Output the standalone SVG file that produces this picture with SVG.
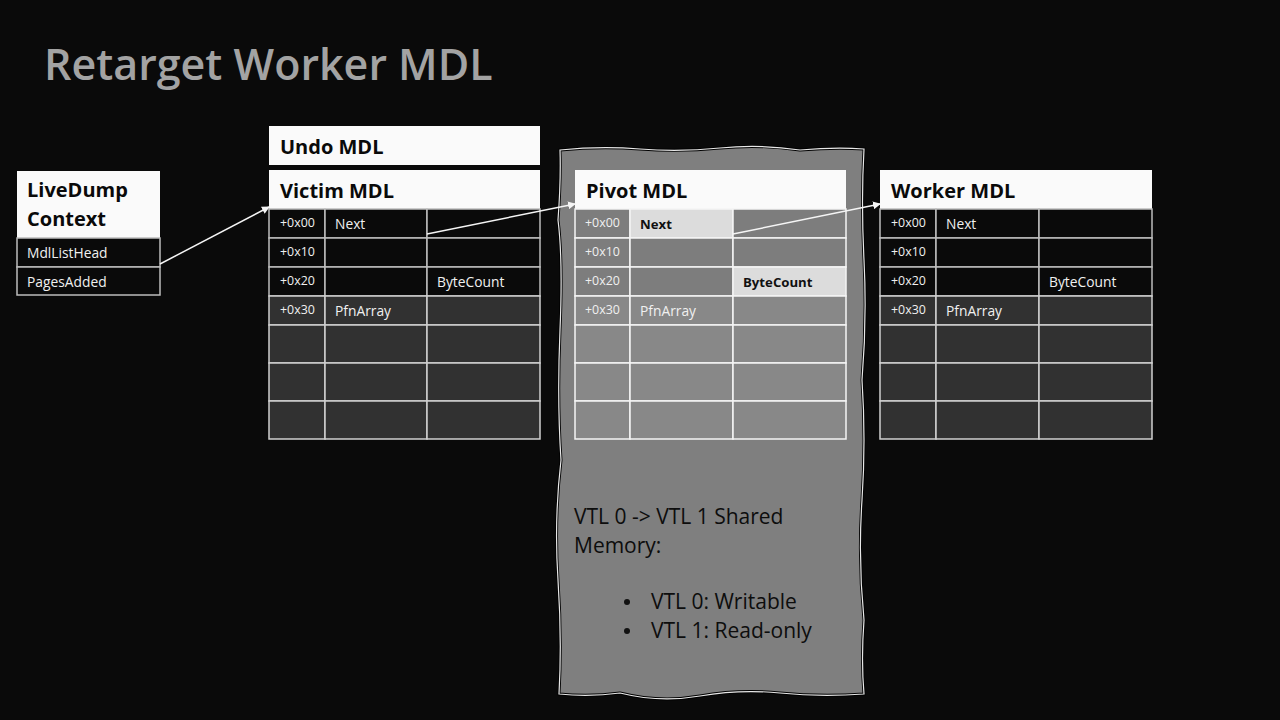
<svg xmlns="http://www.w3.org/2000/svg" width="1280" height="720" viewBox="0 0 1280 720">
<defs>
<style>
.t{font-family:"Open Sans","Noto Sans","Liberation Sans",sans-serif}
.hdr{fill:#fafafa}
.h{font-family:"Open Sans","Noto Sans","Liberation Sans",sans-serif;font-weight:bold;font-size:20px;fill:#0a0a0a}
.c{font-family:"Open Sans","Noto Sans","Liberation Sans",sans-serif;font-size:13.8px;fill:#f0f0f0}
.o{font-family:"Open Sans","Noto Sans","Liberation Sans",sans-serif;font-size:12.4px;fill:#f0f0f0}
.cb{font-family:"Open Sans","Noto Sans","Liberation Sans",sans-serif;font-size:13.2px;font-weight:bold;fill:#111}
.blk{fill:#0a0a0a;stroke:#bdbdbd;stroke-width:1.5}
.dk{fill:#313131;stroke:#d0d0d0;stroke-width:1.5}
.pg{fill:#7d7d7d;stroke:#f5f5f5;stroke-width:1.5}
.pl{fill:#888888;stroke:#f5f5f5;stroke-width:1.5}
.pw{fill:#dcdcdc;stroke:#f5f5f5;stroke-width:1.5}
.ar{stroke:#f5f5f5;stroke-width:1.5;fill:none;marker-end:url(#ah)}
.body{font-family:"Open Sans","Noto Sans","Liberation Sans",sans-serif;font-size:21px;fill:#0d0d0d}
</style>
<marker id="ah" markerWidth="8" markerHeight="8" refX="7" refY="4" orient="auto" markerUnits="userSpaceOnUse">
<path d="M0,0 L8,4 L0,8 Z" fill="#f5f5f5"/>
</marker>
</defs>
<rect width="1280" height="720" fill="#0a0a0a"/>
<text x="44" y="80" class="t" font-size="43" font-weight="600" fill="#a3a3a3">Retarget Worker MDL</text>

<g id="pivot-region">
<path d="M560,150 Q600,146 640,149 T720,148 T800,150 Q835,147 864,149 Q861,200 864,260 T862,380 Q866,440 862,500 T864,620 Q861,660 864,694 Q820,697 780,693 T700,696 T620,693 Q590,697 559,694 Q562,640 558,580 T561,460 Q557,400 560,330 T558,220 Q561,180 560,150 Z" fill="#7f7f7f" stroke="#000" stroke-width="3"/>
<path d="M560,150 Q600,146 640,149 T720,148 T800,150 Q835,147 864,149 Q861,200 864,260 T862,380 Q866,440 862,500 T864,620 Q861,660 864,694 Q820,697 780,693 T700,696 T620,693 Q590,697 559,694 Q562,640 558,580 T561,460 Q557,400 560,330 T558,220 Q561,180 560,150 Z" fill="none" stroke="#e8e8e8" stroke-width="1.2"/>
<text class="body"><tspan x="574" y="524">VTL 0 -&gt; VTL 1 Shared</tspan><tspan x="574" y="553">Memory:</tspan></text>
<circle cx="627" cy="602" r="3" fill="#111"/>
<circle cx="627" cy="631" r="3" fill="#111"/>
<text x="651" y="609" class="body">VTL 0: Writable</text>
<text x="651" y="638" class="body">VTL 1: Read-only</text>
</g>

<g id="livedump">
<rect x="17" y="171" width="143" height="67" class="hdr"/>
<text class="h"><tspan x="27" y="197">LiveDump</tspan><tspan x="27" y="226">Context</tspan></text>
<rect x="17" y="238" width="143" height="29" class="blk"/>
<rect x="17" y="267" width="143" height="28" class="blk"/>
<text x="27" y="258" class="c">MdlListHead</text>
<text x="27" y="287" class="c">PagesAdded</text>
</g>

<g id="undo-mdl">
<rect x="269" y="126" width="271" height="39" class="hdr"/>
<text x="280" y="154" class="h">Undo MDL</text>
</g>

<g id="victim-mdl">
<rect x="269" y="170" width="271" height="39" class="hdr"/>
<text x="280" y="198" class="h">Victim MDL</text>
<g>
<rect x="269" y="209" width="56" height="29" class="blk"/><rect x="325" y="209" width="102" height="29" class="blk"/><rect x="427" y="209" width="113" height="29" class="blk"/>
<rect x="269" y="238" width="56" height="29" class="blk"/><rect x="325" y="238" width="102" height="29" class="blk"/><rect x="427" y="238" width="113" height="29" class="blk"/>
<rect x="269" y="267" width="56" height="29" class="blk"/><rect x="325" y="267" width="102" height="29" class="blk"/><rect x="427" y="267" width="113" height="29" class="blk"/>
<rect x="269" y="296" width="56" height="29" class="dk"/><rect x="325" y="296" width="102" height="29" class="dk"/><rect x="427" y="296" width="113" height="29" class="dk"/>
<rect x="269" y="325" width="56" height="38" class="dk"/><rect x="325" y="325" width="102" height="38" class="dk"/><rect x="427" y="325" width="113" height="38" class="dk"/>
<rect x="269" y="363" width="56" height="38" class="dk"/><rect x="325" y="363" width="102" height="38" class="dk"/><rect x="427" y="363" width="113" height="38" class="dk"/>
<rect x="269" y="401" width="56" height="38" class="dk"/><rect x="325" y="401" width="102" height="38" class="dk"/><rect x="427" y="401" width="113" height="38" class="dk"/>
</g>
<text x="280" y="227" class="o">+0x00</text><text x="335" y="229" class="c">Next</text>
<text x="280" y="256" class="o">+0x10</text>
<text x="280" y="285" class="o">+0x20</text><text x="437" y="287" class="c">ByteCount</text>
<text x="280" y="314" class="o">+0x30</text><text x="335" y="316" class="c">PfnArray</text>
</g>

<g id="pivot-mdl">
<rect x="575" y="170" width="271" height="39" class="hdr"/>
<text x="586" y="198" class="h">Pivot MDL</text>
<g>
<rect x="575" y="209" width="55" height="29" class="pg"/><rect x="630" y="209" width="103" height="29" class="pw"/><rect x="733" y="209" width="113" height="29" class="pg"/>
<rect x="575" y="238" width="55" height="29" class="pg"/><rect x="630" y="238" width="103" height="29" class="pg"/><rect x="733" y="238" width="113" height="29" class="pg"/>
<rect x="575" y="267" width="55" height="29" class="pg"/><rect x="630" y="267" width="103" height="29" class="pg"/><rect x="733" y="267" width="113" height="29" class="pw" fill="#e6e6e6"/>
<rect x="575" y="296" width="55" height="29" class="pl"/><rect x="630" y="296" width="103" height="29" class="pl"/><rect x="733" y="296" width="113" height="29" class="pl"/>
<rect x="575" y="325" width="55" height="38" class="pl"/><rect x="630" y="325" width="103" height="38" class="pl"/><rect x="733" y="325" width="113" height="38" class="pl"/>
<rect x="575" y="363" width="55" height="38" class="pl"/><rect x="630" y="363" width="103" height="38" class="pl"/><rect x="733" y="363" width="113" height="38" class="pl"/>
<rect x="575" y="401" width="55" height="38" class="pl"/><rect x="630" y="401" width="103" height="38" class="pl"/><rect x="733" y="401" width="113" height="38" class="pl"/>
</g>
<text x="585" y="227" class="o">+0x00</text><text x="640" y="229" class="cb">Next</text>
<text x="585" y="256" class="o">+0x10</text>
<text x="585" y="285" class="o">+0x20</text><text x="743" y="287" class="cb">ByteCount</text>
<text x="585" y="314" class="o">+0x30</text><text x="640" y="316" class="c">PfnArray</text>
</g>

<g id="worker-mdl">
<rect x="880" y="170" width="272" height="39" class="hdr"/>
<text x="891" y="198" class="h">Worker MDL</text>
<g>
<rect x="880" y="209" width="56" height="29" class="blk"/><rect x="936" y="209" width="103" height="29" class="blk"/><rect x="1039" y="209" width="113" height="29" class="blk"/>
<rect x="880" y="238" width="56" height="29" class="blk"/><rect x="936" y="238" width="103" height="29" class="blk"/><rect x="1039" y="238" width="113" height="29" class="blk"/>
<rect x="880" y="267" width="56" height="29" class="blk"/><rect x="936" y="267" width="103" height="29" class="blk"/><rect x="1039" y="267" width="113" height="29" class="blk"/>
<rect x="880" y="296" width="56" height="29" class="dk"/><rect x="936" y="296" width="103" height="29" class="dk"/><rect x="1039" y="296" width="113" height="29" class="dk"/>
<rect x="880" y="325" width="56" height="38" class="dk"/><rect x="936" y="325" width="103" height="38" class="dk"/><rect x="1039" y="325" width="113" height="38" class="dk"/>
<rect x="880" y="363" width="56" height="38" class="dk"/><rect x="936" y="363" width="103" height="38" class="dk"/><rect x="1039" y="363" width="113" height="38" class="dk"/>
<rect x="880" y="401" width="56" height="38" class="dk"/><rect x="936" y="401" width="103" height="38" class="dk"/><rect x="1039" y="401" width="113" height="38" class="dk"/>
</g>
<text x="891" y="227" class="o">+0x00</text><text x="946" y="229" class="c">Next</text>
<text x="891" y="256" class="o">+0x10</text>
<text x="891" y="285" class="o">+0x20</text><text x="1049" y="287" class="c">ByteCount</text>
<text x="891" y="314" class="o">+0x30</text><text x="946" y="316" class="c">PfnArray</text>
</g>

<g id="connectors">
<line x1="160" y1="264" x2="269" y2="207" class="ar"/>
<line x1="427" y1="234" x2="575" y2="204" class="ar"/>
<line x1="733" y1="234" x2="880" y2="204" class="ar"/>
</g>
</svg>
